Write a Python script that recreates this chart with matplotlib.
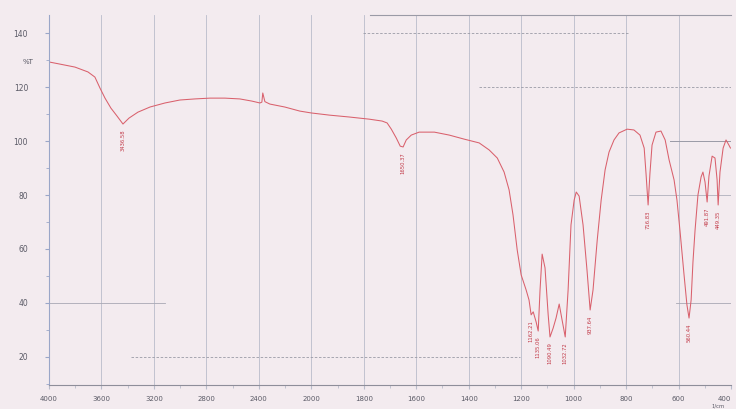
import numpy as np
import matplotlib
matplotlib.use("Agg")
import matplotlib.pyplot as plt

# FTIR trace (wavenumber in 1/cm, transmittance in %T)
wavenumber = [4000, 3916, 3802, 3703, 3650, 3611, 3573, 3528, 3482, 3436,
              3390, 3322, 3230, 3116, 3002, 2888, 2773, 2659, 2545, 2453,
              2392, 2377, 2370, 2354, 2316, 2202, 2088, 2000, 1931, 1855,
              1779, 1730, 1711, 1695, 1676, 1661, 1650, 1638, 1619, 1589,
              1531, 1474, 1417, 1360, 1322, 1291, 1265, 1246, 1231, 1215,
              1200, 1181, 1170, 1162, 1154, 1143, 1135, 1128, 1120, 1109,
              1097, 1090, 1078, 1067, 1055, 1044, 1032, 1021, 1010, 998,
              990, 979, 964, 949, 937, 926, 910, 895, 880, 865,
              846, 827, 796, 770, 747, 731, 724, 716, 709, 701,
              686, 667, 651, 636, 617, 606, 594, 579, 568, 560,
              552, 545, 537, 526, 514, 507, 499, 491, 484, 472,
              461, 453, 449, 442, 430, 419, 408, 402]
transmittance = [129.3, 128.5, 127.4, 125.6, 123.7, 119.6, 115.9, 112.2, 109.3, 106.3,
                 108.5, 110.7, 112.6, 114.1, 115.2, 115.6, 115.9, 115.9, 115.6, 114.8,
                 114.1, 114.4, 117.8, 114.6, 113.7, 112.6, 111.1, 110.4, 109.6, 108.9,
                 108.1, 107.4, 106.7, 104.4, 101.1, 98.1, 97.8, 100.4, 102.2, 103.3,
                 103.3, 102.2, 100.7, 99.3, 96.7, 93.7, 88.5, 81.9, 72.6, 59.6,
                 50.4, 44.8, 41.1, 35.6, 36.7, 33.0, 29.6, 44.8, 58.1, 53.0,
                 35.6, 27.4, 30.7, 34.4, 39.6, 33.7, 27.4, 44.8, 68.9, 78.1,
                 81.1, 79.6, 68.9, 52.2, 37.4, 44.8, 63.3, 78.1, 89.3, 95.9,
                 100.4, 103.0, 104.4, 104.1, 102.2, 97.4, 88.0, 76.3, 88.0, 98.5,
                 103.3, 103.7, 100.4, 93.0, 85.6, 78.1, 66.3, 50.4, 39.3, 34.4,
                 41.1, 55.2, 67.0, 80.0, 86.7, 88.5, 84.8, 77.4, 87.0, 94.4,
                 93.7, 85.6, 76.3, 88.5, 97.4, 100.4, 98.5, 97.4]

# labelled peaks
peak_wn = [3436, 1650, 1162, 1135, 1090, 1032, 937, 716, 560, 491, 449]
peak_text = ["3436.58", "1650.37", "1162.21", "1135.06", "1090.49", "1032.72",
             "937.64", "716.83", "560.44", "491.87", "449.35"]

x_ticks = [4000, 3600, 3200, 2800, 2400, 2000, 1800, 1600, 1400, 1200, 1000, 800, 600, 400]
y_ticks = [20, 40, 60, 80, 100, 120, 140]


def fwd(w):
    w = np.asarray(w, float)
    return np.where(w >= 2000, w / 400.0, 5 - (2000 - w) / 200.0)


def inv(u):
    u = np.asarray(u, float)
    return np.where(u >= 5, u * 400.0, 2000 - (5 - u) * 200.0)


paper = "#f3ebef"
grid_c = "#b9bccb"
curve_c = "#d9606c"
text_c = "#5a5a66"

fig = plt.figure(figsize=(7.36, 4.09), dpi=100, facecolor=paper)
ax = fig.add_axes([49 / 736, 1 - 385 / 409, 682 / 736, 370 / 409])
ax.set_facecolor(paper)
ax.set_xscale("function", functions=(fwd, inv))
ax.set_xlim(4000, 400)
ax.set_ylim(9.6, 146.7)

ax.set_xticks(x_ticks)
ax.set_xticklabels([str(t) for t in x_ticks], fontsize=5, color=text_c)
ax.get_xticklabels()[-1].set_horizontalalignment("right")
minor_x = [3800, 3400, 3000, 2600, 2200, 1900, 1700, 1500, 1300, 1100, 900, 700, 500]
ax.set_xticks(minor_x, minor=True)
ax.set_yticks(y_ticks)
ax.set_yticklabels([str(t) for t in y_ticks], fontsize=5.5, color=text_c)
ax.set_yticks(np.arange(10, 150, 10), minor=True)
ax.tick_params(axis="x", which="major", length=3, pad=5, color=grid_c)
ax.tick_params(axis="x", which="minor", length=2, color=grid_c)
ax.tick_params(axis="y", which="major", length=3, pad=12, color="#9aa6c8")
ax.tick_params(axis="y", which="minor", length=2, color="#9aa6c8")

ax.grid(axis="x", which="major", color=grid_c, lw=0.6)
for s in ["top", "right"]:
    ax.spines[s].set_visible(False)
ax.spines["left"].set_color("#9aa6c8")
ax.spines["left"].set_linewidth(0.8)
ax.spines["bottom"].set_color("#8e8e9a")
ax.spines["bottom"].set_linewidth(0.8)

# partial printed guide lines on the chart paper
ax.axhline(140, 0.46, 0.85, color="#9a9aa6", lw=0.6, ls=(0, (3, 2)))
ax.axhline(120, 0.63, 1.0, color="#9a9aa6", lw=0.6, ls=(0, (3, 2)))
ax.axhline(100, 0.91, 1.0, color="#9a9aa6", lw=0.7)
ax.axhline(80, 0.85, 1.0, color="#b0b0bc", lw=0.6)
ax.axhline(40, 0.0, 0.17, color="#a8a8b4", lw=0.6)
ax.axhline(40, 0.92, 1.0, color="#a8a8b4", lw=0.6)
ax.axhline(20, 0.12, 0.69, color="#9a9aa6", lw=0.6, ls=(0, (3, 2)))
ax.axhline(146.7, 0.47, 1.0, color="#9a9aa6", lw=0.8, clip_on=False)

ax.plot(wavenumber, transmittance, color=curve_c, lw=0.75)

for w, t in zip(peak_wn, peak_text):
    y = np.interp(w, wavenumber[::-1], transmittance[::-1])
    ax.text(w, y - 2, t, rotation=90, ha="center", va="top",
            fontsize=3.8, color="#c23a48")

fig.text(28 / 736, 1 - 62 / 409, "%T", fontsize=5, color=text_c, ha="center", va="center")
fig.text(718 / 736, 1 - 406.5 / 409, "1/cm", fontsize=3.8, color=text_c, ha="center", va="center")

fig.savefig("out.png", dpi=100, facecolor=paper)
